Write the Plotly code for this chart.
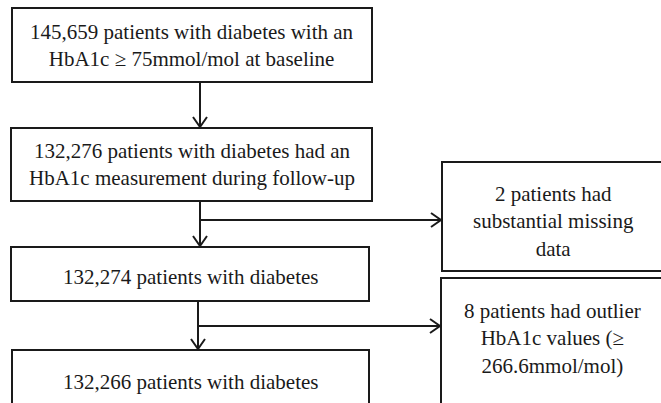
import plotly.graph_objects as go

# ---- data (texts of the flowchart) ----
main_texts = [
    "145,659 patients with diabetes with an<br>HbA1c ≥ 75mmol/mol at baseline",
    "132,276 patients with diabetes had an<br>HbA1c measurement during follow-up",
    "132,274 patients with diabetes",
    "132,266 patients with diabetes",
]
side_texts = [
    "2 patients had<br>substantial missing<br>data",
    "8 patients had outlier<br>HbA1c values (≥<br>266.6mmol/mol)",
]

# ---- layout geometry (pixels, y downward) ----
W, H = 661, 403
main_boxes = [(12, 8, 372, 82), (11, 128, 372, 201), (11, 247, 369, 301), (12, 350, 369, 420)]
side_boxes = [(442, 162, 664, 271), (441, 278, 664, 420)]
main_text_y = [45, 164, 277, 382]
side_text_y = [221, 338]
FONT = dict(family="Liberation Serif, Times New Roman, serif", size=21, color="#1a1a1a")
LINE = dict(color="#1a1a1a", width=2)

fig = go.Figure()
fig.add_trace(go.Scatter(x=[0, W], y=[0, H], mode="markers", marker=dict(opacity=0), hoverinfo="skip", showlegend=False))

shapes = []
for (x0, y0, x1, y1) in main_boxes + side_boxes:
    shapes.append(dict(type="rect", x0=x0, y0=y0, x1=x1, y1=y1, line=LINE, fillcolor="white", layer="above"))

def vline(x, y0, y1):
    shapes.append(dict(type="line", x0=x, x1=x, y0=y0, y1=y1, line=LINE))

def hline(y, x0, x1):
    shapes.append(dict(type="line", x0=x0, x1=x1, y0=y, y1=y, line=LINE))

def down_head(x, y):
    shapes.append(dict(type="path", path=f"M {x-7} {y-10} L {x} {y} L {x+7} {y-10}", line=LINE))

def right_head(x, y):
    shapes.append(dict(type="path", path=f"M {x-10} {y-7} L {x} {y} L {x-10} {y+7}", line=LINE))

# arrow 1
vline(200, 82, 127); down_head(200, 127)
# arrow 2 with branch
vline(200, 201, 246); down_head(200, 246)
hline(220, 200, 441); right_head(441, 220)
# arrow 3 with branch
vline(198, 301, 349); down_head(198, 349)
hline(326, 198, 440); right_head(440, 326)

annotations = []
for (box, ty, t) in zip(main_boxes, main_text_y, main_texts):
    annotations.append(dict(x=(box[0] + box[2]) / 2, y=ty, text=t, showarrow=False,
                            xanchor="center", yanchor="middle", font=FONT, align="center"))
for (box, ty, t) in zip(side_boxes, side_text_y, side_texts):
    annotations.append(dict(x=(box[0] + box[2]) / 2, y=ty, text=t, showarrow=False,
                            xanchor="center", yanchor="middle", font=FONT, align="center"))

fig.update_layout(
    width=W, height=H, margin=dict(l=0, r=0, t=0, b=0),
    paper_bgcolor="white", plot_bgcolor="white",
    xaxis=dict(range=[0, W], visible=False, fixedrange=True),
    yaxis=dict(range=[H, 0], visible=False, fixedrange=True),
    shapes=shapes, annotations=annotations, showlegend=False,
)
fig.write_html("out.html", config={"displayModeBar": False},
               post_script="document.body.style.margin='0';document.body.style.overflow='hidden';")
